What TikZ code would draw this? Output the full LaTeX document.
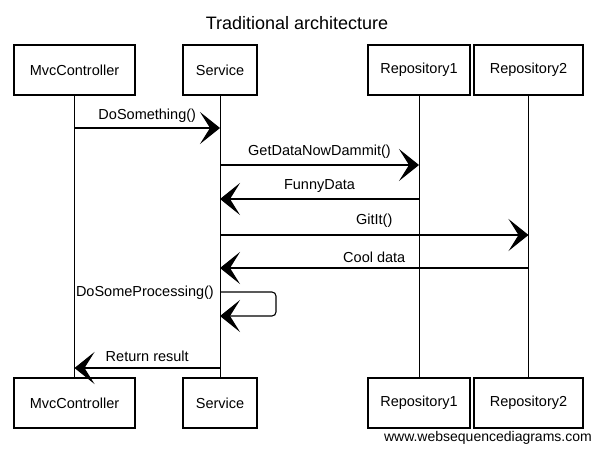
\documentclass[tikz,border=0pt]{standalone}
\usepackage{fontspec}
\setmainfont{Liberation Sans}
\usetikzlibrary{arrows.meta}
\begin{document}
\begin{tikzpicture}[x=1pt,y=-1pt,
  actor/.style={draw=black,line width=1.1pt,minimum height=50pt,inner sep=0pt,font=\fontsize{14.5}{16}\selectfont},
  life/.style={draw=black,line width=0.9pt},
  msg/.style={draw=black,line width=1.1pt,-{Stealth[length=20pt,width=32pt,inset=10pt]}},
  lbl/.style={font=\fontsize{14.5}{16}\selectfont,inner sep=0pt}]
\useasboundingbox (0,0) rectangle (593,449);
\node[font=\fontsize{18}{20}\selectfont] (title) at (297,23) {Traditional architecture};
% top actors
\node[actor,minimum width=121pt] (mcT) at (74.5,70) {MvcController};
\node[actor,minimum width=74pt] (svT) at (220,70) {Service};
\node[actor,minimum width=102pt] (r1T) at (419,70) {Repository1};
\node[actor,minimum width=109pt] (r2T) at (528.5,70) {Repository2};
% bottom actors
\node[actor,minimum width=121pt] (mcB) at (74.5,403) {MvcController};
\node[actor,minimum width=74pt] (svB) at (220,403) {Service};
\node[actor,minimum width=102pt] (r1B) at (419,403) {Repository1};
\node[actor,minimum width=109pt] (r2B) at (528.5,403) {Repository2};
% lifelines
\draw[life] (mcT.south) -- (mcB.north);
\draw[life] (svT.south) -- (svB.north);
\draw[life] (r1T.south) -- (r1B.north);
\draw[life] (r2T.south) -- (r2B.north);
% message heights
\coordinate (y1) at (0,128);
\coordinate (y2) at (0,165);
\coordinate (y3) at (0,199);
\coordinate (y4) at (0,235);
\coordinate (y5) at (0,268);
\coordinate (y6) at (0,292);
\coordinate (y6b) at (0,316);
\coordinate (y7) at (0,368);
\coordinate (loopx) at (276,0);
% messages
\draw[msg] (mcT.south |- y1) -- node[lbl,above=5pt] (l1) {DoSomething()} (svT.south |- y1);
\draw[msg] (svT.south |- y2) -- node[lbl,above=6pt] (l2) {GetDataNowDammit()} (r1T.south |- y2);
\draw[msg] (r1T.south |- y3) -- node[lbl,above=6pt] (l3) {FunnyData} (svT.south |- y3);
\draw[msg] (svT.south |- y4) -- node[lbl,above=7pt,pos=0.5] (l4) {GitIt()} (r2T.south |- y4);
\draw[msg] (r2T.south |- y5) -- node[lbl,above=5pt] (l5) {Cool data} (svT.south |- y5);
\draw[msg,rounded corners=4pt] (svT.south |- y6) -- (loopx |- y6) -- (loopx |- y6b) -- (svT.south |- y6b);
\node[lbl,anchor=east] (l6) at (214,293) {DoSomeProcessing()};
\draw[msg] (svT.south |- y7) -- node[lbl,above=6pt] (l7) {Return result} (mcT.south |- y7);
% watermark
\node[font=\fontsize{14}{16}\selectfont,anchor=east,inner sep=0pt] (wm) at (592,438) {www.websequencediagrams.com};
\end{tikzpicture}
\end{document}
